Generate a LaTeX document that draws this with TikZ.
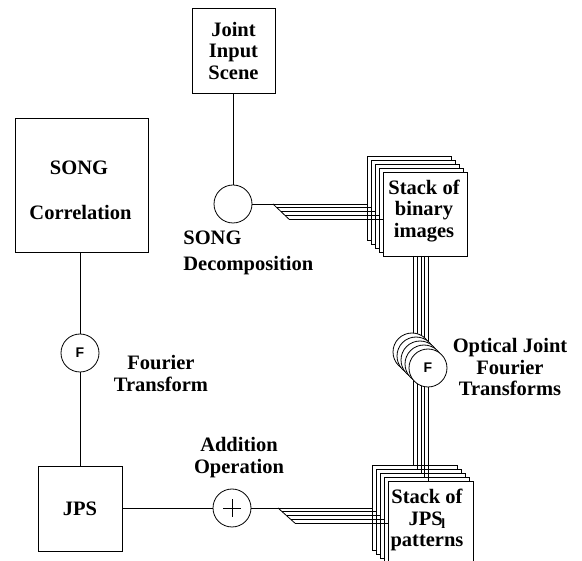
\documentclass[tikz,border=0pt]{standalone}
\usepackage{fontspec}
\setmainfont{Liberation Serif}
\newfontfamily\sansF{Liberation Sans}
\begin{document}
\begin{tikzpicture}[x=1pt,y=-1pt,line width=0.8pt,
  rect/.style={draw, fill=white, inner sep=0pt, line width=0.9pt},
  circ/.style={draw, fill=white, circle, inner sep=0pt, minimum size=38pt},
  lbl/.style={font=\bfseries\fontsize{20.5}{21.5}\selectfont, align=center, inner sep=0pt},
  fsym/.style={font=\sansF\bfseries\fontsize{14}{14}\selectfont}]
\useasboundingbox (0,0) rectangle (582,561);
\clip (0,0) rectangle (582,561);
% boxes
\node[rect, minimum width=83pt, minimum height=85pt] (jis) at (233.5,50.5) {};
\node[rect, minimum width=133pt, minimum height=134pt] (corr) at (81.5,185) {};
\node[rect, minimum width=84pt, minimum height=85pt] (jps) at (80,508.5) {};
\node[circ] (dec) at (233,204) {};
\node[circ, fsym] (ft) at (80,353) {F};
\node[circ] (add) at (232,508) {};
\draw[line width=0.6pt] ([xshift=-9pt]add.center) -- ([xshift=9pt]add.center);
\draw[line width=0.6pt] ([yshift=-9pt]add.center) -- ([yshift=9pt]add.center);
% stacks
\foreach \i in {1,...,5} {
  \node[rect, minimum size=84pt] (b\i) at ({409+4*(\i-1)},{198+4*(\i-1)}) {};
}
\foreach \i in {1,...,5} {
  \node[rect, minimum size=85pt] (p\i) at ({414.5+4*(\i-1)},{507.5+4*(\i-1)}) {};
}
% connectors
\draw (jis.south -| dec) -- (dec.north);
\draw (corr.south -| ft) -- (ft.north);
\draw (ft.south) -- (jps.north -| ft);
\draw (jps.east |- add) -- (add.west);
\foreach \i in {1,...,5} {
  \coordinate (fa\i) at ({273+4*(\i-1)},{204+3.8*(\i-1)});
  \coordinate (ga\i) at ({278+4.25*(\i-1)},{508+3.8*(\i-1)});
  \coordinate (va\i) at ({413.5+3.7*(\i-1)},256);
}
\draw (dec.east) -- (fa1);
\draw (fa1) -- (fa5);
\draw (add.east) -- (ga1);
\draw (ga1) -- (ga5);
\foreach \i in {1,...,5} {
  \draw (fa\i) -- (fa\i -| b\i.west);
  \draw (ga\i) -- (ga\i -| p\i.west);
  \draw (va\i) -- (va\i |- p\i.north);
}
% optical FT circles
\foreach \i in {1,...,4} {
  \node[circ] (f\i) at ({412+4*(\i-1)},{352+4*(\i-1)}) {};
}
\node[circ, fsym] (f5) at (428,368) {F};
% labels
\node[lbl] (tjis) at (jis) {Joint\\Input\\Scene};
\node[lbl] (tsong) at (79,168) {SONG};
\node[lbl] (tcorr) at (80.5,212) {Correlation};
\node[lbl] (tjps) at (jps) {JPS};
\node[lbl, anchor=west] (tdec1) at (183,238) {SONG};
\node[lbl, anchor=west] (tdec2) at (183,266) {Decomposition};
\node[lbl] (tft) at (161,373.5) {Fourier\\Transform};
\node[lbl] (tadd) at (239,457.5) {Addition\\Operation};
\node[lbl] (toft) at (510,367) {Optical Joint\\Fourier\\Transforms};
\node[lbl] (tbin) at (424,211) {Stack of\\binary\\images};
\node[lbl] (tpat) at (427,520) {Stack of\\JPS\kern-1.5pt\raisebox{-3.5pt}{\fontsize{14}{14}\selectfont l}\\patterns};
\end{tikzpicture}
\end{document}
